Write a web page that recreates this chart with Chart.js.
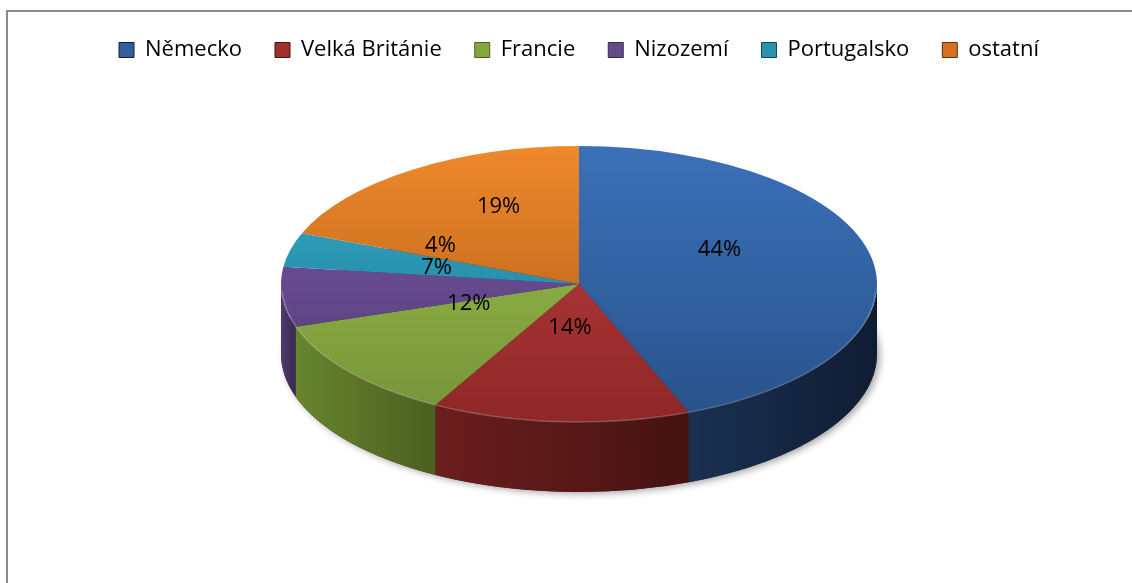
<!DOCTYPE html>
<html>
<head>
<meta charset="utf-8">
<script src="https://cdn.jsdelivr.net/npm/chart.js@4.4.1/dist/chart.umd.min.js"></script>
<style>
  html, body { margin: 0; padding: 0; background: #fff; overflow: hidden; }
  #wrap { position: relative; width: 1132px; height: 583px; overflow: hidden; }
  #frame { position: absolute; left: 6px; top: 10px; width: 1300px; height: 800px;
           border-left: 2px solid #8c8c8c; border-top: 2px solid #8c8c8c; }
  #chart { position: absolute; left: 0; top: 0; }
</style>
</head>
<body>
<div id="wrap">
  <div id="frame"></div>
  <canvas id="chart" width="1132" height="583"></canvas>
</div>
<script>
// data
const countries = ['Německo', 'Velká Británie', 'Francie', 'Nizozemí', 'Portugalsko', 'ostatní'];
const shares = [44, 14, 12, 7, 4, 19];

// colours: top face (light -> dark), side wall (left -> right), legend box
const topLight = ['#3b70b8', '#c04040', '#9cc24a', '#7b5aa8', '#33b0cf', '#ef8a2c'];
const topDark  = ['#28528a', '#8e2727', '#75933a', '#4f3872', '#1f7088', '#a85514'];
const wallLight = ['#1a3052', '#6c1e1e', '#68852d', '#4f3a6e', '#1d6174', '#8a4612'];
const wallDark  = ['#0f1d33', '#451212', '#4b5f20', '#3a2a52', '#144655', '#60300b'];
const legendColors = ['#335f9f', '#a0302f', '#84a63b', '#664b8b', '#2b92ad', '#d4701f'];

const FONT = 'Open Sans';

// tilted pie: squash the library's arcs into an ellipse and add the side walls
let squashed = false;
const pie3d = {
    id: 'pie3d',
    beforeDatasetsDraw(chart, args, opts) {
        const arcs = chart.getDatasetMeta(0).data;
        if (!arcs.length) return;
        const { x, y, outerRadius: R } = arcs[0];
        const rx = opts.rx, ry = rx * opts.tilt, d = opts.depth;
        const ctx = chart.ctx;

        // soft shadow under the pie
        ctx.save();
        ctx.shadowColor = 'rgba(0,0,0,0.35)';
        ctx.shadowBlur = 7;
        ctx.shadowOffsetX = 3;
        ctx.shadowOffsetY = 2;
        ctx.fillStyle = '#333';
        ctx.beginPath();
        ctx.ellipse(x, y + d, rx, ry, 0, 0, 2 * Math.PI);
        ctx.fill();
        ctx.restore();

        // front walls (only the part of each slice facing the viewer)
        arcs.forEach((arc, i) => {
            for (let k = -1; k <= 1; k++) {
                const lo = Math.max(arc.startAngle, 2 * Math.PI * k);
                const hi = Math.min(arc.endAngle, 2 * Math.PI * k + Math.PI);
                if (hi <= lo) continue;
                const xa = x + rx * Math.cos(lo), xb = x + rx * Math.cos(hi);
                const g = ctx.createLinearGradient(Math.min(xa, xb), 0, Math.max(xa, xb), 0);
                g.addColorStop(0, wallLight[i]);
                g.addColorStop(1, wallDark[i]);
                ctx.fillStyle = g;
                ctx.beginPath();
                ctx.ellipse(x, y, rx, ry, 0, lo, hi);
                ctx.ellipse(x, y + d, rx, ry, 0, hi, lo, true);
                ctx.closePath();
                ctx.fill();
            }
        });

        ctx.save();
        ctx.translate(x, y);
        ctx.scale(rx / R, ry / R);
        ctx.translate(-x, -y);
        squashed = true;
    },
    afterDatasetsDraw(chart, args, opts) {
        if (!squashed) return;
        const ctx = chart.ctx;
        ctx.restore();
        squashed = false;

        const arcs = chart.getDatasetMeta(0).data;
        const { x, y } = arcs[0];
        const rx = opts.rx, ry = rx * opts.tilt;

        // faint bevel highlight on the front rim
        ctx.save();
        ctx.strokeStyle = 'rgba(255,255,255,0.22)';
        ctx.lineWidth = 1.5;
        ctx.beginPath();
        ctx.ellipse(x, y + 1, rx - 1, ry - 1, 0, 0.05, Math.PI - 0.05);
        ctx.stroke();
        ctx.restore();

        // percentage labels
        const total = shares.reduce((a, b) => a + b, 0);
        ctx.save();
        ctx.fillStyle = '#000';
        ctx.font = `${opts.labelSize}px "${FONT}"`;
        ctx.textAlign = 'center';
        ctx.textBaseline = 'middle';
        arcs.forEach((arc, i) => {
            const mid = (arc.startAngle + arc.endAngle) / 2;
            const px = x + opts.labelFrac * rx * Math.cos(mid);
            const py = y - opts.labelLift + opts.labelFrac * ry * Math.sin(mid);
            ctx.fillText(Math.round(shares[i] / total * 100) + '%', px, py);
        });
        ctx.restore();
    }
};

function faceGradient(context) {
    const i = context.dataIndex;
    const area = context.chart.chartArea;
    if (!area) return topLight[i];
    const g = context.chart.ctx.createLinearGradient(0, area.top, 0, area.bottom);
    g.addColorStop(0, topLight[i]);
    g.addColorStop(1, topDark[i]);
    return g;
}

const baseLabels = Chart.DoughnutController.overrides.plugins.legend.labels.generateLabels;

new Chart(document.getElementById('chart'), {
    type: 'pie',
    data: {
        labels: countries,
        datasets: [{
            data: shares,
            backgroundColor: faceGradient,
            borderWidth: 0,
            clip: false
        }]
    },
    options: {
        responsive: false,
        animation: false,
        events: [],
        layout: { padding: { top: 6, left: 26, right: 0, bottom: 86 } },
        plugins: {
            tooltip: { enabled: false },
            legend: {
                position: 'top',
                labels: {
                    boxWidth: 15,
                    boxHeight: 15,
                    padding: 33,
                    color: '#000',
                    font: { family: FONT, size: 22 },
                    generateLabels(chart) {
                        const items = baseLabels(chart);
                        items.forEach((it, i) => {
                            it.fillStyle = legendColors[i];
                            it.strokeStyle = wallDark[i];
                            it.lineWidth = 1;
                        });
                        return items;
                    }
                }
            },
            pie3d: { rx: 298, tilt: 0.463, depth: 70, labelFrac: 0.48, labelLift: 22, labelSize: 22 }
        }
    },
    plugins: [pie3d]
});
</script>
</body>
</html>
